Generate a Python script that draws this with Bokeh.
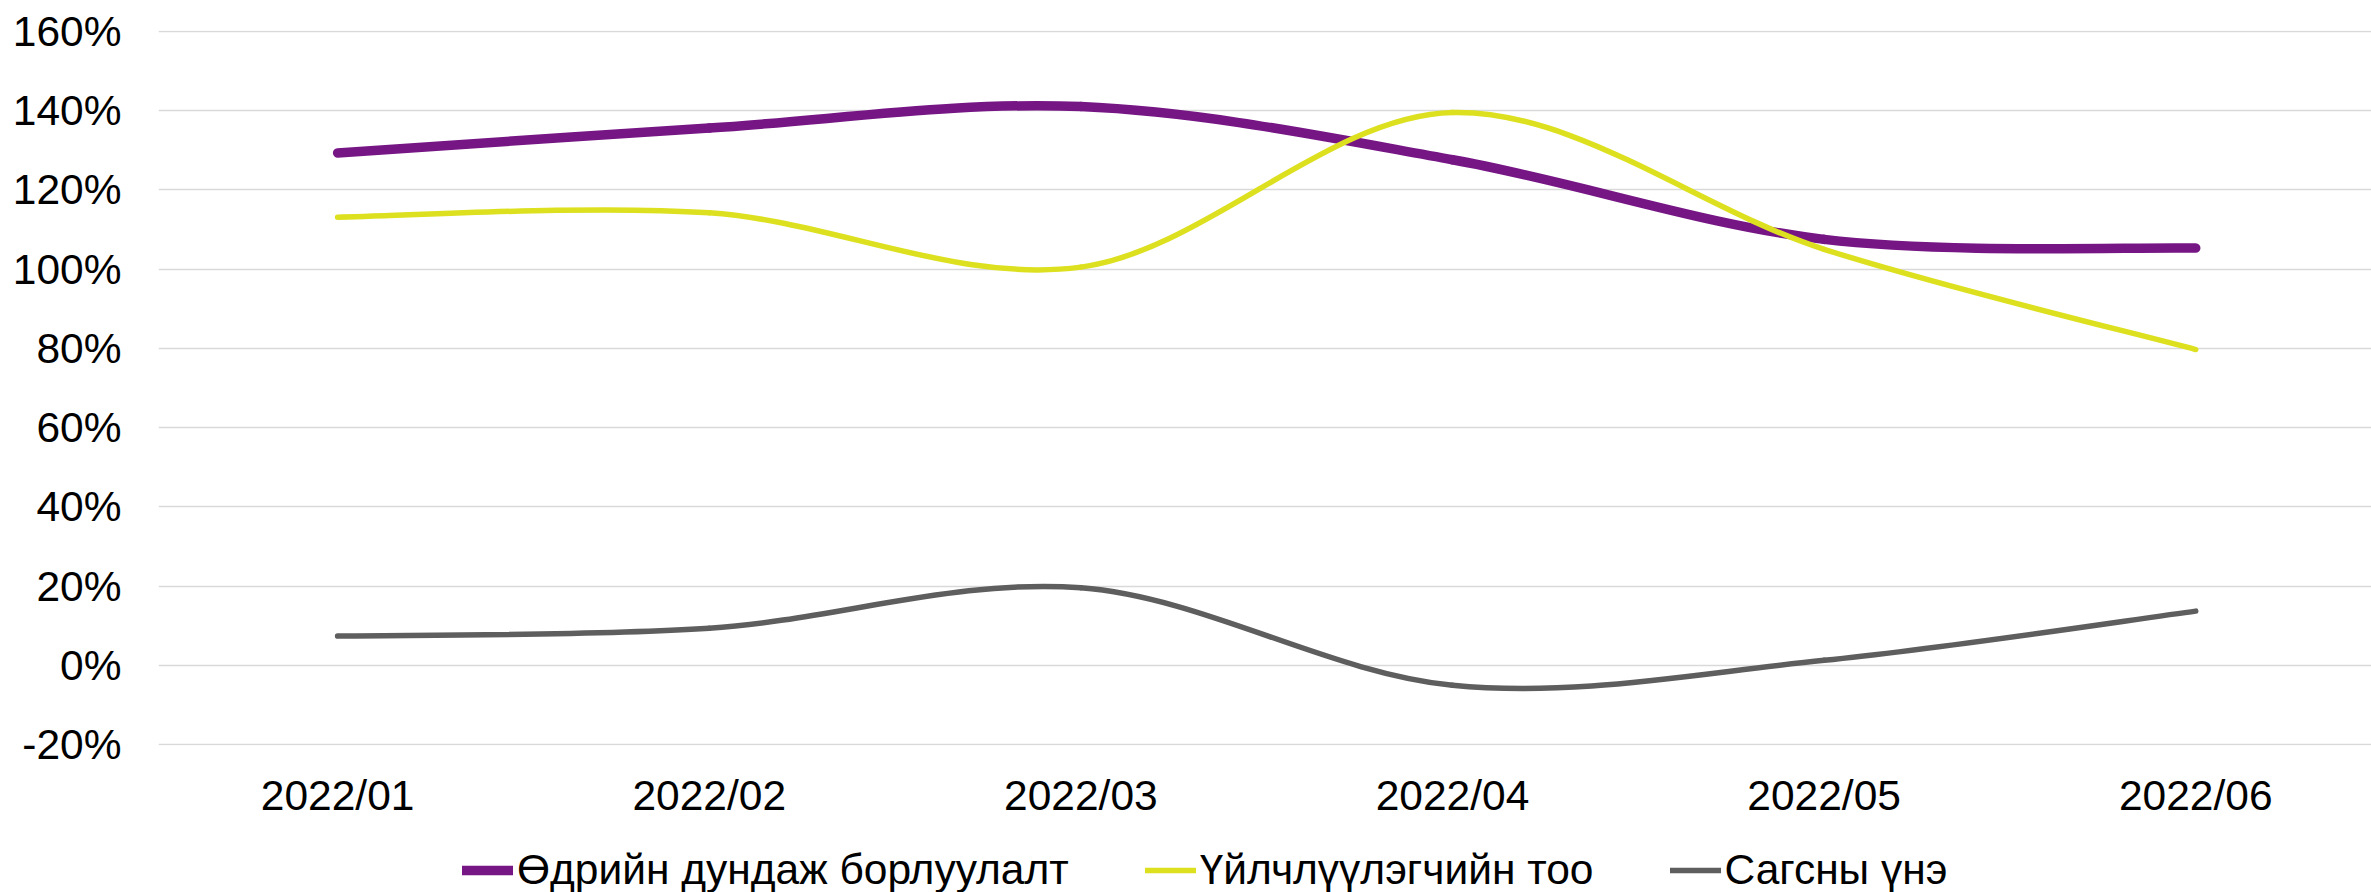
from bokeh.plotting import figure
from bokeh.layouts import column
from bokeh.models import Range1d, FixedTicker, PrintfTickFormatter, Legend, LegendItem
from bokeh.embed import file_html
from bokeh.resources import INLINE

# ---- data ----
months = ["2022/01", "2022/02", "2022/03", "2022/04", "2022/05", "2022/06"]
daily_avg_sales = [129.3, 135.6, 141.0, 127.6, 107.5, 105.3]   # Өдрийн дундаж борлуулалт
customer_count = [113.1, 114.2, 100.5, 139.5, 105.0, 79.7]     # Үйлчлүүлэгчийн тоо
basket_price = [7.4, 9.4, 19.6, -5.0, 1.3, 13.7]               # Сагсны үнэ
series_names = ["Өдрийн дундаж борлуулалт", "Үйлчлүүлэгчийн тоо", "Сагсны үнэ"]
y_ticks = [-20, 0, 20, 40, 60, 80, 100, 120, 140, 160]

colors = ["#761685", "#DCE01E", "#5E5E5E"]
widths = [9.5, 5.5, 5.5]
FONT = "Liberation Sans"
FS = "42.5px"
W = 2371
LEFT = 158

p = figure(width=W, height=825, output_backend="svg", toolbar_location=None,
           x_range=Range1d(-0.482, 5.473), y_range=Range1d(-20.2, 160.2),
           min_border_left=LEFT, min_border_right=0, min_border_top=30, min_border_bottom=80)
p.outline_line_color = None
p.background_fill_color = "white"
p.border_fill_color = "white"

xs = list(range(len(months)))


def smooth_segments(x, y):
    """Catmull-Rom style bezier control points (Excel-like smoothing)."""
    n = len(x)
    out = dict(x0=[], y0=[], x1=[], y1=[], cx0=[], cy0=[], cx1=[], cy1=[])
    for i in range(n - 1):
        im1 = max(i - 1, 0)
        ip2 = min(i + 2, n - 1)
        out["x0"].append(x[i]); out["y0"].append(y[i])
        out["x1"].append(x[i + 1]); out["y1"].append(y[i + 1])
        out["cx0"].append(x[i] + (x[i + 1] - x[im1]) / 6.0)
        out["cy0"].append(y[i] + (y[i + 1] - y[im1]) / 6.0)
        out["cx1"].append(x[i + 1] - (x[ip2] - x[i]) / 6.0)
        out["cy1"].append(y[i + 1] - (y[ip2] - y[i]) / 6.0)
    return out


for name, vals, c, w in zip(series_names, [daily_avg_sales, customer_count, basket_price], colors, widths):
    seg = smooth_segments(xs, vals)
    p.bezier(source=seg, x0="x0", y0="y0", x1="x1", y1="y1",
             cx0="cx0", cy0="cy0", cx1="cx1", cy1="cy1",
             line_color=c, line_width=w, line_cap="round")

# axes
p.yaxis.ticker = FixedTicker(ticks=y_ticks)
p.yaxis.formatter = PrintfTickFormatter(format="%d%%")
p.yaxis.axis_line_color = None
p.yaxis.major_tick_line_color = None
p.yaxis.minor_tick_line_color = None
p.yaxis.major_tick_out = 0
p.yaxis.major_label_standoff = 37
p.yaxis.major_label_text_font = FONT
p.yaxis.major_label_text_font_size = FS
p.yaxis.major_label_text_color = "#000000"

p.xaxis.ticker = FixedTicker(ticks=xs)
p.xaxis.major_label_overrides = {i: m for i, m in enumerate(months)}
p.xaxis.axis_line_color = None
p.xaxis.major_tick_line_color = None
p.xaxis.minor_tick_line_color = None
p.xaxis.major_tick_out = 0
p.xaxis.major_label_standoff = 26
p.xaxis.major_label_text_font = FONT
p.xaxis.major_label_text_font_size = FS
p.xaxis.major_label_text_color = "#000000"

p.xgrid.grid_line_color = None
p.ygrid.ticker = FixedTicker(ticks=y_ticks)
p.ygrid.grid_line_color = "#D9D9D9"
p.ygrid.grid_line_width = 1.5

# ---- legend strip ----
LH = 67
pl = figure(width=W, height=LH, output_backend="svg", toolbar_location=None,
            x_range=Range1d(0, W - LEFT), y_range=Range1d(0, LH),
            x_axis_location=None, y_axis_location=None,
            min_border=0, min_border_left=LEFT, min_border_right=0, min_border_top=0, min_border_bottom=0)
pl.grid.grid_line_color = None
pl.outline_line_color = None
pl.background_fill_color = "white"
pl.border_fill_color = "white"

items = []
for name, c, w in zip(series_names, colors, widths):
    # off-screen stand-in glyph, only used to draw the legend swatch
    dummy = pl.line(x=[-500, -400], y=[-500, -500], line_color=c, line_width=w, line_cap="round")
    items.append(LegendItem(label=name, renderers=[dummy]))

legend = Legend(items=items, orientation="horizontal", location=(304, -2),
                label_text_font=FONT, label_text_font_size=FS, label_text_color="#000000",
                glyph_width=51, glyph_height=20, label_standoff=4, spacing=76,
                padding=0, margin=0, border_line_color=None, background_fill_alpha=0)
pl.add_layout(legend, "center")

layout = column(p, pl, spacing=0)
open("out.html", "w").write(file_html(layout, INLINE))
